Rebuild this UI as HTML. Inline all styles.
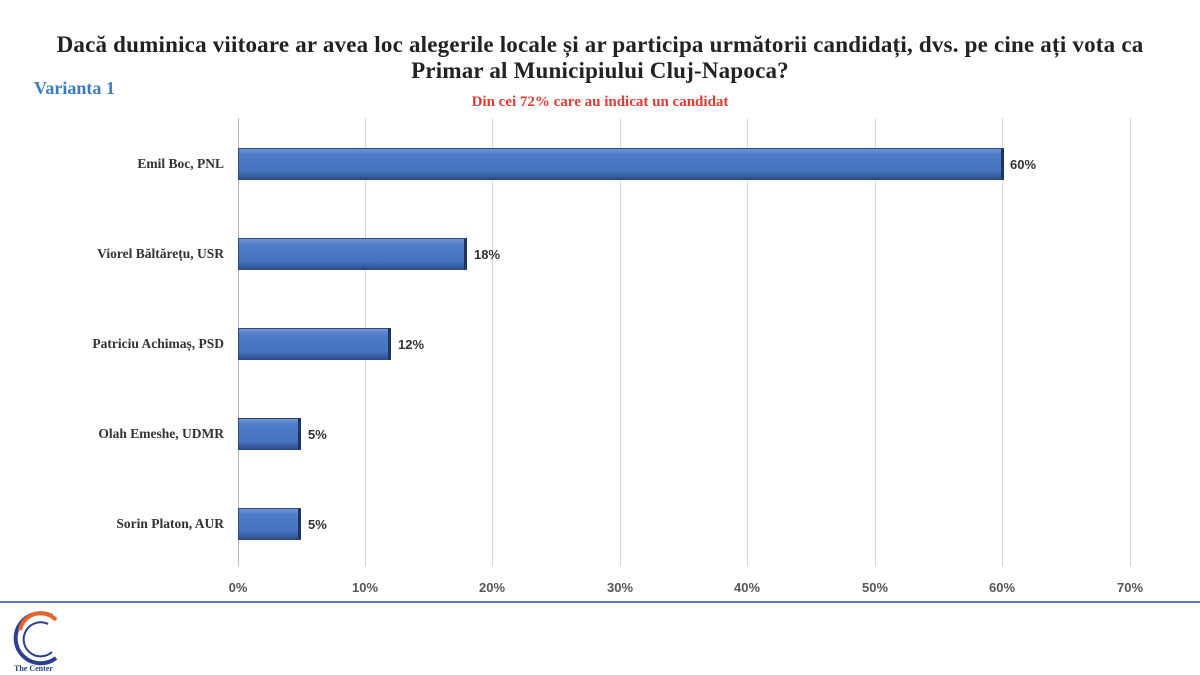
<!DOCTYPE html>
<html><head><style>
body{margin:0;width:1200px;height:675px;background:#fff;position:relative;overflow:hidden;font-family:"Liberation Serif",serif}
.t{position:absolute;left:0;width:1200px;text-align:center;top:32px;font-size:23px;letter-spacing:0.2px;line-height:26px;color:#222;font-weight:bold}
.a{position:absolute;font-family:"Liberation Serif",serif}
.bar{position:absolute;height:32px;left:238px;background:linear-gradient(#6f95d4 0%,#4f7cc8 20%,#4672be 75%,#2e4f8c 100%);border:1px solid #2c4a80;border-right:3px solid #1f3560;box-sizing:border-box}
.lab{position:absolute;right:976px;font-size:13.5px;font-weight:bold;color:#333;text-align:right;white-space:nowrap}
.v{position:absolute;font-size:13px;color:#333;font-weight:bold;font-family:"Liberation Sans",sans-serif}
.g{position:absolute;top:118px;height:448px;width:1px;background:#d6d6d6}
.x{position:absolute;top:580px;font-size:13px;font-weight:bold;color:#555;font-family:"Liberation Sans",sans-serif;width:60px;text-align:center}
</style></head><body>
<div class="t">Dacă duminica viitoare ar avea loc alegerile locale și ar participa următorii candidați, dvs. pe cine ați vota ca<br>Primar al Municipiului Cluj-Napoca?</div>
<div class="a" style="left:34px;top:78px;font-size:18px;font-weight:bold;color:#3a7cc0">Varianta 1</div>
<div class="a" style="left:0;width:1200px;text-align:center;top:94px;font-size:15px;font-weight:bold;color:#e03c32">Din cei 72% care au indicat un candidat</div>
<div class="g" style="left:238px;background:#bbb"></div>
<div class="g" style="left:365px"></div><div class="g" style="left:492px"></div><div class="g" style="left:620px"></div><div class="g" style="left:747px"></div><div class="g" style="left:875px"></div><div class="g" style="left:1002px"></div><div class="g" style="left:1130px"></div>
<div class="bar" style="top:148px;width:766px"></div><div class="v" style="left:1010px;top:157px">60%</div>
<div class="bar" style="top:238px;width:229px"></div><div class="v" style="left:474px;top:247px">18%</div>
<div class="bar" style="top:328px;width:153px"></div><div class="v" style="left:398px;top:337px">12%</div>
<div class="bar" style="top:418px;width:63px"></div><div class="v" style="left:308px;top:427px">5%</div>
<div class="bar" style="top:508px;width:63px"></div><div class="v" style="left:308px;top:517px">5%</div>
<div class="lab" style="top:156px">Emil Boc, PNL</div>
<div class="lab" style="top:246px">Viorel Băltărețu, USR</div>
<div class="lab" style="top:336px">Patriciu Achimaș, PSD</div>
<div class="lab" style="top:426px">Olah Emeshe, UDMR</div>
<div class="lab" style="top:516px">Sorin Platon, AUR</div>
<div class="x" style="left:208px">0%</div><div class="x" style="left:335px">10%</div><div class="x" style="left:462px">20%</div><div class="x" style="left:590px">30%</div><div class="x" style="left:717px">40%</div><div class="x" style="left:845px">50%</div><div class="x" style="left:972px">60%</div><div class="x" style="left:1100px">70%</div>
<div style="position:absolute;left:0;top:601px;width:1200px;height:2px;background:#5a7fa8"></div>
<svg style="position:absolute;left:6px;top:608px" width="60" height="66">
<path d="M46 8 A25 25 0 1 0 50 50" fill="none" stroke="#2b3f8c" stroke-width="4"/>
<path d="M50 12 A21 21 0 0 0 14 22" fill="none" stroke="#e8662a" stroke-width="4"/>
<path d="M42 16 A17 17 0 1 0 46 44" fill="none" stroke="#2b3f8c" stroke-width="2"/>
<text x="8" y="63" font-size="8" font-weight="bold" fill="#2b3f8c" font-family="Liberation Serif">The Center</text>
</svg>
</body></html>
